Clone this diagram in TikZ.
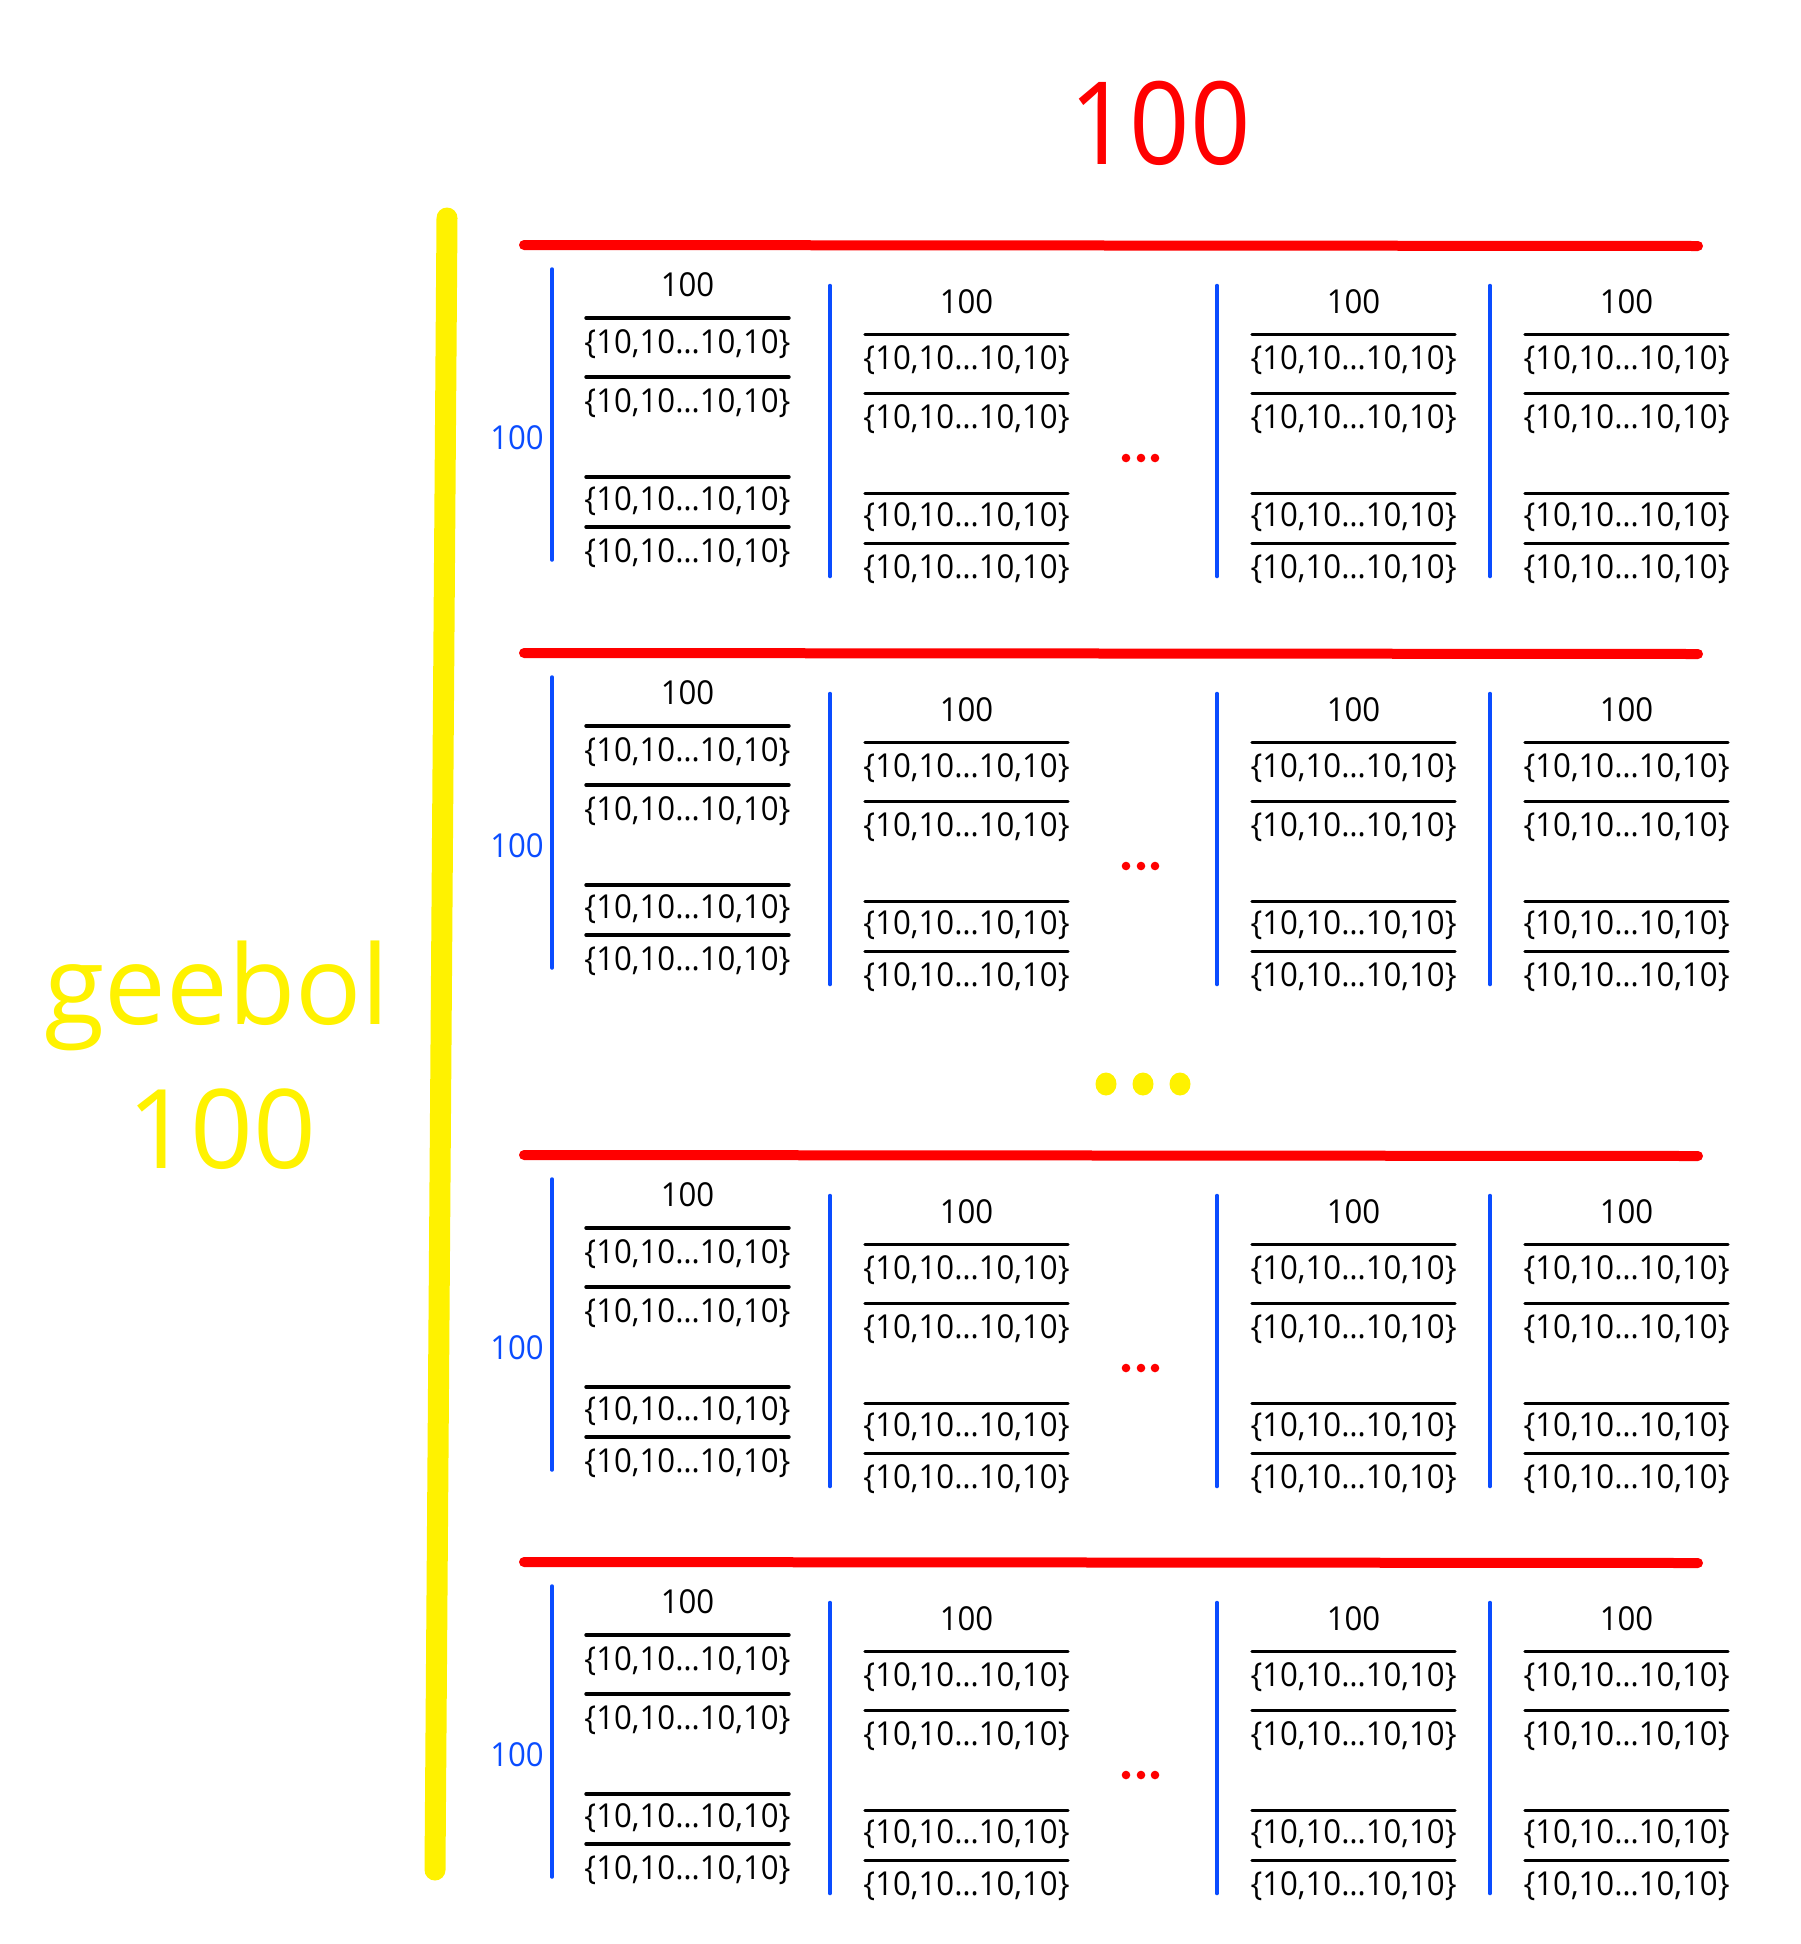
\documentclass[tikz,border=0pt]{standalone}
\usepackage{fontspec}
\setmainfont{Open Sans}
\newfontfamily\numfont{Open Sans}[FakeStretch=0.92]
\newfontfamily\cellfont{Open Sans}[FakeStretch=0.945]
\usetikzlibrary{positioning}
\definecolor{gred}{RGB}{255,0,0}
\definecolor{gyellow}{RGB}{255,242,0}
\definecolor{gblue}{RGB}{10,76,255}

\begin{document}
\begin{tikzpicture}[x=1pt,y=-1pt,
numtext/.style={inner sep=0pt,anchor=base,font=\cellfont\fontsize{33}{40}\selectfont},
sizelabel/.style={inner sep=0pt,anchor=base east,text=gblue,font=\cellfont\fontsize{33}{40}\selectfont},
bigtext/.style={inner sep=0pt,anchor=base,font=\fontsize{110}{130}\selectfont},
redbar/.style={gred,line width=10pt,line cap=round},
blueline/.style={gblue,line width=3.5pt,line cap=round},
blackrule/.style={black,line width=3.4pt,line cap=round},
]
\useasboundingbox (0,0) rectangle (1800,1944);

\node [bigtext,text=gred,font=\numfont\fontsize{115}{135}\selectfont] (Top) at (1160,164) {100};
\node [bigtext,text=gyellow] (Name) at (217,1024) {geebol};
\node [bigtext,text=gyellow] (Size) at (222,1168) {100};

\coordinate (Ytop) at (447,218);
\coordinate (Ybot) at (435,1870);
\draw [gyellow,line width=21pt,line cap=round] (Ytop) -- (Ybot);

% dots between the rows
\foreach \x in {1106,1143,1180}
{
\fill [gyellow] (\x,1084) ellipse [x radius=10.5, y radius=11.5];
}

\foreach \r [count=\n] in {245,653,1155,1562}
{
\draw [redbar] (524,\r) -- (1698,\r+1);
\node [sizelabel] (B-\n) at (544,\r+204) {100};
\foreach \dx in {1126,1141,1155}
{
\fill [gred] (\dx,\r+213) circle [radius=4.3];
}
\foreach \cx/\lx/\dy [count=\c] in {687.5/552/0, 966.5/830/16.5, 1353.5/1217/16.5, 1626.5/1490/16.5}
{
\draw [blueline] (\lx,\r+24+\dy) -- (\lx,\r+315+\dy);
\node [numtext] (H-\n-\c) at (\cx,\r+51.5+\dy) {100};
\foreach \ly/\ty [count=\k] in {73/96, 132/155, 232/253, 282/305}
{
\draw [blackrule] (\cx-101.5,\r+\ly+\dy) -- (\cx+101.5,\r+\ly+\dy);
\node [numtext] (V-\n-\c-\k) at (\cx,\r+\ty+\dy+12) {\{10,10…10,10\}};
}
}
}

\end{tikzpicture}
\end{document}
